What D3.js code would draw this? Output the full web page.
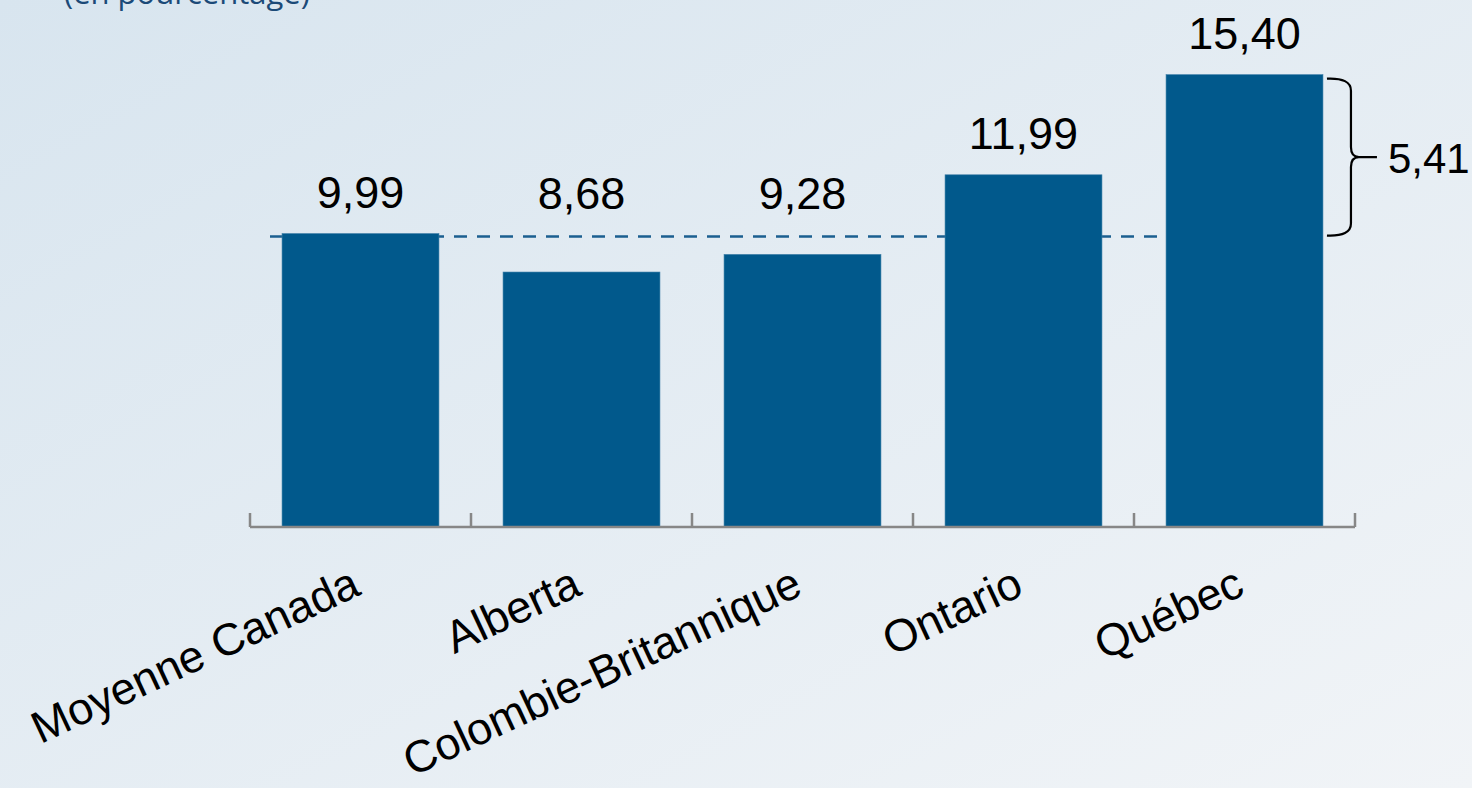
<!DOCTYPE html>
<html>
<head>
<meta charset="utf-8">
<script src="https://cdn.jsdelivr.net/npm/d3@7"></script>
<style>
  html, body { margin: 0; padding: 0; }
  body { width: 1472px; height: 788px; overflow: hidden; }
  svg { display: block; }
</style>
</head>
<body>
<svg id="chart" width="1472" height="788"></svg>
<script>
// data
const categories = ["Moyenne Canada", "Alberta", "Colombie-Britannique", "Ontario", "Québec"];
const values = [9.99, 8.68, 9.28, 11.99, 15.40];
const averageValue = 9.99;   // dashed reference line
const gapLabel = "5,41";     // Québec minus average
const subtitle = "(en pourcentage)";

// french number format: comma for decimals
const fr = d3.formatLocale({decimal: ",", thousands: " ", grouping: [3], currency: ["", " $"]});
const fmt = fr.format(".2f");

const svg = d3.select("#chart");

// background gradient
let defs = svg.append("defs");
let grad = defs.append("linearGradient")
               .attr("id", "bg")
               .attr("x1", "0").attr("y1", "0")
               .attr("x2", "1").attr("y2", "1");
grad.append("stop").attr("offset", "0%").attr("stop-color", "#d8e5ef");
grad.append("stop").attr("offset", "100%").attr("stop-color", "#f1f4f7");
svg.append("rect")
   .attr("width", 1472).attr("height", 788)
   .attr("fill", "url(#bg)");

// subtitle, cut at the top edge like the original slide
svg.append("text")
   .attr("x", 64)
   .attr("y", 4)
   .attr("font-family", "'Open Sans', sans-serif")
   .attr("font-size", "31px")
   .attr("fill", "#1b4a78")
   .text(subtitle);

// scales
let x = d3.scaleBand()
          .domain(categories)
          .range([250, 1355])
          .paddingInner(0.29)
          .paddingOuter(0.145);

let y = d3.scaleLinear()
          .domain([0, 16])
          .range([527, 57]);

const barColor = "#01598c";
const avgY = y(averageValue) + 3;

// dashed average line (behind the bars)
svg.append("line")
   .attr("x1", 270)
   .attr("x2", x.range()[1] - 30)
   .attr("y1", avgY)
   .attr("y2", avgY)
   .attr("stroke", "#1b5f90")
   .attr("stroke-width", 2.6)
   .attr("stroke-dasharray", "13 10");

// bars
svg.selectAll("rect.bar")
   .data(values)
   .enter()
   .append("rect")
   .attr("class", "bar")
   .attr("x", (d, i) => x(categories[i]))
   .attr("y", d => y(d))
   .attr("width", x.bandwidth())
   .attr("height", d => y(0) - y(d))
   .attr("fill", barColor)
   .attr("stroke", "#3f7fa8")
   .attr("stroke-width", 0.6);

// value labels (those below the average sit above the dashed line)
svg.selectAll("text.val")
   .data(values)
   .enter()
   .append("text")
   .attr("class", "val")
   .attr("x", (d, i) => x(categories[i]) + x.bandwidth() / 2)
   .attr("y", d => Math.min(y(d) + 2, avgY) - 28)
   .attr("text-anchor", "middle")
   .attr("font-family", "'Liberation Sans', Arial, sans-serif")
   .attr("font-size", "45px")
   .attr("fill", "#000")
   .text(d => fmt(d));

// x axis: gray baseline with ticks between categories, pointing up
let axisY = y(0);
let axisG = svg.append("g");
axisG.append("line")
     .attr("x1", x.range()[0])
     .attr("x2", x.range()[1])
     .attr("y1", axisY)
     .attr("y2", axisY)
     .attr("stroke", "#878787")
     .attr("stroke-width", 2.5);
let tickPos = categories.map(c => x(c) - x.step() * x.paddingInner() / 2);
tickPos.push(x.range()[1]);
axisG.selectAll("line.tick")
     .data(tickPos)
     .enter()
     .append("line")
     .attr("class", "tick")
     .attr("x1", d => d)
     .attr("x2", d => d)
     .attr("y1", axisY)
     .attr("y2", axisY - 14)
     .attr("stroke", "#878787")
     .attr("stroke-width", 2.5);

// rotated category labels
svg.selectAll("text.cat")
   .data(categories)
   .enter()
   .append("text")
   .attr("class", "cat")
   .attr("text-anchor", "end")
   .attr("transform", d => "translate(" + (x(d) + x.bandwidth() / 2 + 2) + "," + (axisY + 67) + ") rotate(-25)")
   .attr("font-family", "'Liberation Sans', Arial, sans-serif")
   .attr("font-size", "45px")
   .attr("fill", "#000")
   .text(d => d);

// curly brace showing the gap between Québec and the average
let qi = categories.length - 1;
let bx = x(categories[qi]) + x.bandwidth() + 4;
let bTop = y(values[qi]) + 4;
let bBot = avgY - 1;
let bMid = (bTop + bBot) / 2;
let w = 24;   // depth of the brace arms
let tip = 26; // tip length
let path = d3.path();
path.moveTo(bx, bTop);
path.quadraticCurveTo(bx + w, bTop - 1, bx + w, bTop + 12);
path.lineTo(bx + w, bMid - 10);
path.quadraticCurveTo(bx + w, bMid, bx + w + 8, bMid);
path.lineTo(bx + w + tip, bMid);
path.moveTo(bx + w + 8, bMid);
path.quadraticCurveTo(bx + w, bMid, bx + w, bMid + 10);
path.lineTo(bx + w, bBot - 12);
path.quadraticCurveTo(bx + w, bBot + 1, bx, bBot);
svg.append("path")
   .attr("d", path.toString())
   .attr("fill", "none")
   .attr("stroke", "#000")
   .attr("stroke-width", 2.2);

svg.append("text")
   .attr("x", bx + w + tip + 11)
   .attr("y", bMid + 16)
   .attr("font-family", "'Liberation Sans', Arial, sans-serif")
   .attr("font-size", "42px")
   .attr("fill", "#000")
   .text(gapLabel);
</script>
</body>
</html>
